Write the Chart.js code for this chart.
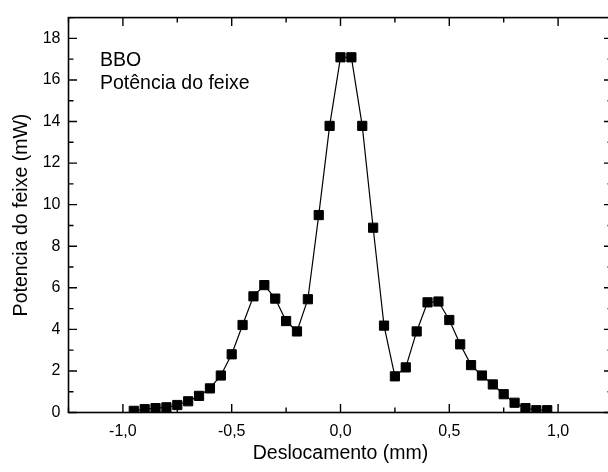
<!DOCTYPE html>
<html>
<head>
<meta charset="utf-8">
<script src="https://cdn.jsdelivr.net/npm/chart.js@4.4.0/dist/chart.umd.min.js"></script>
<style>
  html, body { margin: 0; padding: 0; background: #fff; overflow: hidden; }
  #wrap { width: 608px; height: 472px; overflow: hidden; }
  canvas { display: block; }
</style>
</head>
<body>
<div id="wrap"><canvas id="myChart" width="620" height="472" style="width:620px;height:472px"></canvas></div>
<script>
const deslocamento = [
  -0.95, -0.9, -0.85, -0.8, -0.75, -0.7, -0.65, -0.6, -0.55, -0.5,
  -0.45, -0.4, -0.35, -0.3, -0.25, -0.2, -0.15, -0.1, -0.05, 0.0,
  0.05, 0.1, 0.15, 0.2, 0.25, 0.3, 0.35, 0.4, 0.45, 0.5,
  0.55, 0.6, 0.65, 0.7, 0.75, 0.8, 0.85, 0.9, 0.95
];
const potencia = [
  0.08, 0.16, 0.21, 0.25, 0.36, 0.54, 0.80, 1.16, 1.78, 2.80,
  4.21, 5.59, 6.13, 5.48, 4.40, 3.90, 5.45, 9.50, 13.79, 17.09,
  17.09, 13.79, 8.89, 4.18, 1.74, 2.17, 3.90, 5.30, 5.34, 4.45,
  3.28, 2.28, 1.78, 1.35, 0.88, 0.47, 0.21, 0.11, 0.11
];
const xTicks = [-1.0, -0.5, 0.0, 0.5, 1.0];
const yTicks = [0, 2, 4, 6, 8, 10, 12, 14, 16, 18];
const legendLines = ["BBO", "Potência do feixe"];

const FONT = "'Liberation Sans', Arial, sans-serif";

// minor ticks halfway between major ones
const minors = (arr) => {
  const step = arr[1] - arr[0];
  const out = [arr[0] - step / 2];
  arr.forEach(v => out.push(v + step / 2));
  return out;
};

const framePlugin = {
  id: "frame",
  beforeDatasetsDraw(chart) {
    const { ctx, chartArea: a, scales: { x, y } } = chart;
    ctx.save();
    ctx.strokeStyle = "#000";
    ctx.lineWidth = 1.6;
    ctx.strokeRect(a.left, a.top, a.right - a.left, a.bottom - a.top);

    ctx.lineWidth = 1.4;
    ctx.beginPath();
    const xTick = (v, len) => {
      const px = x.getPixelForValue(v);
      ctx.moveTo(px, a.bottom); ctx.lineTo(px, a.bottom - len);
      ctx.moveTo(px, a.top); ctx.lineTo(px, a.top + len);
    };
    const yTick = (v, len) => {
      const py = y.getPixelForValue(v);
      if (py < a.top || py > a.bottom) return;
      ctx.moveTo(a.left, py); ctx.lineTo(a.left + len, py);
      ctx.moveTo(a.right, py); ctx.lineTo(a.right - len, py);
    };
    xTicks.forEach(v => xTick(v, 8.5));
    minors(xTicks).forEach(v => xTick(v, 5));
    yTicks.forEach(v => yTick(v, 8.5));
    minors(yTicks).forEach(v => yTick(v, 5));
    ctx.stroke();
    ctx.restore();
  },
  afterDraw(chart) {
    const ctx = chart.ctx;
    ctx.save();
    ctx.fillStyle = "#000";
    ctx.font = "19.5px " + FONT;
    ctx.textBaseline = "alphabetic";
    ctx.textAlign = "left";
    legendLines.forEach((t, i) => ctx.fillText(t, 100, 66 + i * 22.8));
    ctx.restore();
  }
};

const ctx = document.getElementById("myChart").getContext("2d");
const myChart = new Chart(ctx, {
  type: "line",
  data: {
    datasets: [
      {
        data: deslocamento.map((v, i) => ({ x: v, y: potencia[i] })),
        borderColor: "#000",
        borderWidth: 1.2,
        backgroundColor: "#000",
        pointStyle: "rect",
        pointRadius: 6.5,
        pointBorderWidth: 1,
        pointBorderColor: "#000",
        pointBackgroundColor: "#000",
        tension: 0,
      },
    ],
  },
  options: {
    responsive: false,
    animation: false,
    events: [],
    layout: { padding: { top: 10, right: 4.5, left: 0, bottom: 0 } },
    plugins: { legend: { display: false }, tooltip: { enabled: false } },
    scales: {
      x: {
        type: "linear",
        min: -1.25,
        max: 1.25,
        afterBuildTicks: (s) => { s.ticks = xTicks.map(v => ({ value: v })); },
        afterFit: (s) => { s.height = 59.5; },
        grid: { display: false, drawTicks: false },
        border: { display: false },
        ticks: {
          padding: 9,
          color: "#000",
          font: { family: FONT, size: 16 },
          maxRotation: 0,
          callback: (v) => Number(v).toFixed(1).replace(".", ","),
        },
        title: {
          display: true,
          text: "Deslocamento (mm)",
          color: "#000",
          font: { family: FONT, size: 19.5 },
          padding: { top: 0, bottom: 7 },
        },
      },
      y: {
        type: "linear",
        min: 0,
        max: 19,
        afterBuildTicks: (s) => { s.ticks = yTicks.map(v => ({ value: v })); },
        afterFit: (s) => { s.width = 68.5; },
        grid: { display: false, drawTicks: false },
        border: { display: false },
        ticks: {
          padding: 8,
          color: "#000",
          font: { family: FONT, size: 16 },
        },
        title: {
          display: true,
          text: "Potencia do feixe (mW)",
          color: "#000",
          font: { family: FONT, size: 19.5 },
          padding: { top: 10, bottom: 0 },
        },
      },
    },
  },
  plugins: [framePlugin],
});
</script>
</body>
</html>
